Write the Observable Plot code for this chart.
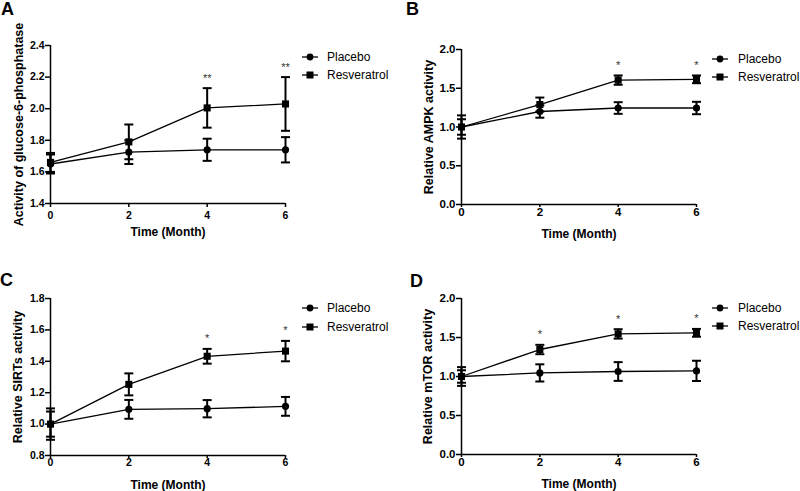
<!DOCTYPE html>
<html>
<head>
<meta charset="utf-8">
<script src="https://cdn.jsdelivr.net/npm/d3@7"></script>
<script src="https://cdn.jsdelivr.net/npm/@observablehq/plot@0.6"></script>
<style>
  body { margin: 0; background: white; }
  #wrap { position: relative; width: 800px; height: 491px; background: white; font-family: "Liberation Sans", Arial, sans-serif; overflow: hidden; }
  .panel { position: absolute; }
  .letter { position: absolute; font-weight: bold; font-size: 18px; line-height: 18px; }
  .lgtext { position: absolute; font-size: 12px; line-height: 14px; white-space: nowrap; }
  .lgsym { position: absolute; }
</style>
</head>
<body>
<div id="wrap"></div>
<script>
const months = [0, 2, 4, 6];
const seriesNames = ["Placebo", "Resveratrol"];
const xTitle = "Time (Month)";

// Panel A – glucose-6-phosphatase
const aPlaceboMean = [1.65, 1.725, 1.74, 1.74];
const aPlaceboErr  = [0.06, 0.075, 0.07, 0.08];
const aResMean     = [1.66, 1.79, 2.005, 2.03];
const aResErr      = [0.06, 0.11, 0.125, 0.17];
const aSig         = ["", "", "**", "**"];
const aTicks       = [1.4, 1.6, 1.8, 2.0, 2.2, 2.4];

// Panel B – AMPK
const bPlaceboMean = [1.0, 1.2, 1.245, 1.245];
const bPlaceboErr  = [0.1, 0.08, 0.075, 0.08];
const bResMean     = [1.0, 1.29, 1.605, 1.615];
const bResErr      = [0.15, 0.09, 0.06, 0.05];
const bSig         = ["", "", "*", "*"];
const bTicks       = [0.0, 0.5, 1.0, 1.5, 2.0];

// Panel C – SIRTs
const cPlaceboMean = [1.0, 1.094, 1.098, 1.113];
const cPlaceboErr  = [0.08, 0.06, 0.055, 0.06];
const cResMean     = [1.0, 1.253, 1.432, 1.465];
const cResErr      = [0.1, 0.07, 0.047, 0.065];
const cSig         = ["", "", "*", "*"];
const cTicks       = [0.8, 1.0, 1.2, 1.4, 1.6, 1.8];

// Panel D – mTOR
const dPlaceboMean = [1.0, 1.046, 1.064, 1.072];
const dPlaceboErr  = [0.08, 0.11, 0.12, 0.13];
const dResMean     = [1.0, 1.346, 1.546, 1.56];
const dResErr      = [0.12, 0.06, 0.06, 0.05];
const dSig         = ["", "*", "*", "*"];
const dTicks       = [0.0, 0.5, 1.0, 1.5, 2.0];

const panels = [
  {letter: "A", yLabel: "Activity of glucose-6-phosphatase", pm: aPlaceboMean, pe: aPlaceboErr, rm: aResMean, re: aResErr, sig: aSig, ticks: aTicks,
   left: 0, top: 0, width: 400, height: 245, mL: 50, mR: 115, mT: 45, mB: 42, xTick: 4, xPad: 4, xDy: 28.5, yDx: -32, tickFont: 10.5,
   letterPos: [1, 0], legend: {cx: 310, tx: 327, y: [57, 75]}},
  {letter: "B", yLabel: "Relative AMPK activity", pm: bPlaceboMean, pe: bPlaceboErr, rm: bResMean, re: bResErr, sig: bSig, ticks: bTicks,
   left: 400, top: 0, width: 400, height: 245, mL: 61, mR: 104, mT: 49, mB: 41, xTick: 3, xPad: 0, xDy: 30, yDx: -33, tickFont: 11.5,
   letterPos: [406, 0], legend: {cx: 720, tx: 738, y: [59, 77]}},
  {letter: "C", yLabel: "Relative SIRTs activity", pm: cPlaceboMean, pe: cPlaceboErr, rm: cResMean, re: cResErr, sig: cSig, ticks: cTicks,
   left: 0, top: 245, width: 400, height: 246, mL: 50, mR: 115, mT: 53, mB: 36, xTick: 3, xPad: 0, xDy: 29.5, yDx: -33, tickFont: 10.5,
   letterPos: [0, 271], legend: {cx: 310, tx: 327, y: [308, 327]}},
  {letter: "D", yLabel: "Relative mTOR activity", pm: dPlaceboMean, pe: dPlaceboErr, rm: dResMean, re: dResErr, sig: dSig, ticks: dTicks,
   left: 400, top: 245, width: 400, height: 246, mL: 61, mR: 104, mT: 53, mB: 37, xTick: 3, xPad: 0, xDy: 29.5, yDx: -33.5, tickFont: 11.5,
   letterPos: [410, 272], legend: {cx: 720, tx: 738, y: [308, 326]}}
];

const capSymbol = {
  draw(context) { context.moveTo(-4.5, 0); context.lineTo(4.5, 0); }
};
const fmt = d3.format(".1f");
const wrap = document.getElementById("wrap");

for (const p of panels) {
  const rows = [];
  months.forEach((m, i) => {
    rows.push({series: "Placebo", month: m, mean: p.pm[i], lo: p.pm[i] - p.pe[i], hi: p.pm[i] + p.pe[i]});
    rows.push({series: "Resveratrol", month: m, mean: p.rm[i], lo: p.rm[i] - p.re[i], hi: p.rm[i] + p.re[i]});
  });
  const sigRows = months.map((m, i) => ({month: m, sig: p.sig[i], top: Math.max(p.rm[i] + p.re[i], p.pm[i] + p.pe[i])})).filter(d => d.sig);
  const yMin = p.ticks[0], yMax = p.ticks[p.ticks.length - 1];

  const chart = Plot.plot({
    width: p.width, height: p.height,
    marginLeft: p.mL, marginRight: p.mR, marginTop: p.mT, marginBottom: p.mB,
    x: {domain: [0, 6]},
    y: {domain: [yMin, yMax]},
    style: {fontFamily: "'Liberation Sans', Arial, sans-serif", fontSize: p.tickFont + "px", fontWeight: "bold", color: "black", background: "white", overflow: "visible"},
    marks: [
      Plot.axisX({ticks: months, tickFormat: "d", tickSize: p.xTick, tickPadding: p.xPad, strokeWidth: 1.5, label: null, fontSize: p.tickFont}),
      Plot.axisY({ticks: p.ticks, tickFormat: fmt, tickSize: 5, tickPadding: 1, strokeWidth: 1.5, label: null, fontSize: p.tickFont}),
      Plot.ruleX([0], {stroke: "black", strokeWidth: 1.5}),
      Plot.ruleY([yMin], {stroke: "black", strokeWidth: 1.5}),
      Plot.text([xTitle], {frameAnchor: "bottom", dy: p.xDy, textAnchor: "middle", lineAnchor: "middle", fontSize: 12, fontWeight: "bold", fill: "black"}),
      Plot.text([p.yLabel], {frameAnchor: "left", dx: p.yDx, rotate: -90, textAnchor: "middle", lineAnchor: "middle", fontSize: 12.5, fontWeight: "bold", fill: "black"}),
      Plot.line(rows, {x: "month", y: "mean", z: "series", stroke: "black", strokeWidth: 1.3}),
      Plot.ruleX(rows, {x: "month", y1: "lo", y2: "hi", stroke: "black", strokeWidth: 2}),
      Plot.dot(rows, {x: "month", y: "lo", symbol: capSymbol, fill: "none", stroke: "black", strokeWidth: 2}),
      Plot.dot(rows, {x: "month", y: "hi", symbol: capSymbol, fill: "none", stroke: "black", strokeWidth: 2}),
      Plot.dot(rows.filter(d => d.series === "Placebo"), {x: "month", y: "mean", symbol: "circle", r: 3.6, fill: "black", stroke: "none"}),
      Plot.dot(rows.filter(d => d.series === "Resveratrol"), {x: "month", y: "mean", symbol: "square", r: 4, fill: "black", stroke: "none"}),
      Plot.text(sigRows, {x: "month", y: "top", text: "sig", dy: -10, fontWeight: "normal", fontSize: 11, fill: "#333"})
    ]
  });
  const holder = document.createElement("div");
  holder.className = "panel";
  holder.style.left = p.left + "px";
  holder.style.top = p.top + "px";
  holder.appendChild(chart);
  wrap.appendChild(holder);

  const L = document.createElement("div");
  L.className = "letter";
  L.textContent = p.letter;
  L.style.left = p.letterPos[0] + "px";
  L.style.top = p.letterPos[1] + "px";
  wrap.appendChild(L);

  seriesNames.forEach((name, k) => {
    const yc = p.legend.y[k];
    const svg = d3.create("svg").attr("class", "lgsym").attr("width", 20).attr("height", 10)
      .style("left", (p.legend.cx - 10) + "px").style("top", (yc - 5) + "px");
    svg.append("line").attr("x1", 2).attr("x2", 18).attr("y1", 5).attr("y2", 5).attr("stroke", "black").attr("stroke-width", 1.3);
    if (name === "Placebo") svg.append("circle").attr("cx", 10).attr("cy", 5).attr("r", 3.4).attr("fill", "black");
    else svg.append("rect").attr("x", 6.5).attr("y", 1.5).attr("width", 7).attr("height", 7).attr("fill", "black");
    wrap.appendChild(svg.node());
    const t = document.createElement("div");
    t.className = "lgtext";
    t.textContent = name;
    t.style.left = p.legend.tx + "px";
    t.style.top = (yc - 7) + "px";
    wrap.appendChild(t);
  });
}
</script>
</body>
</html>
